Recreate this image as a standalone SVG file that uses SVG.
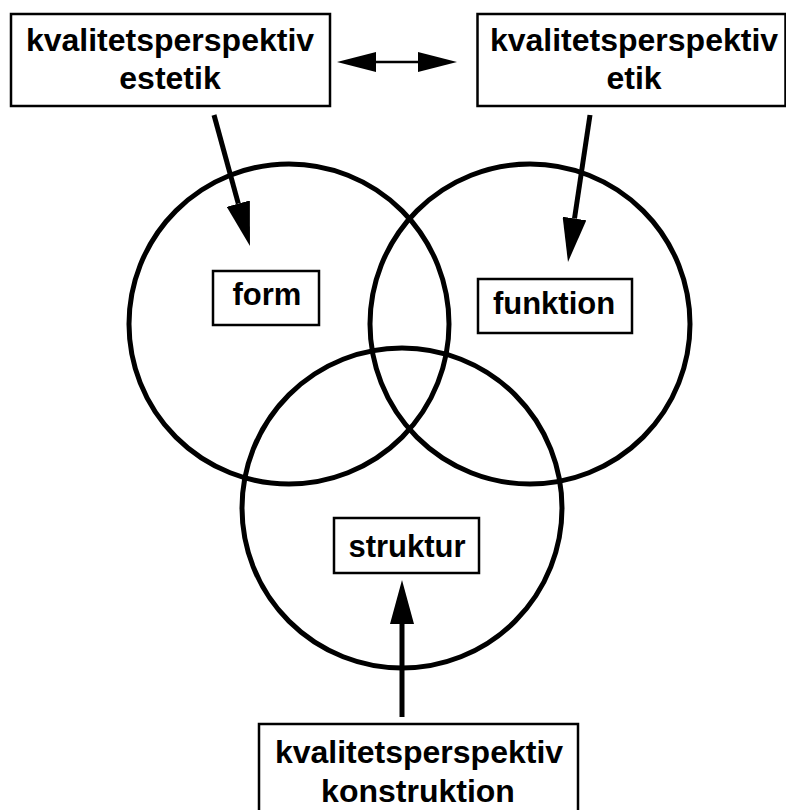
<svg xmlns="http://www.w3.org/2000/svg" width="786" height="810" viewBox="0 0 786 810">
  <style>
    .box { fill: #fff; stroke: #000; stroke-width: 2.5; }
    .lbl { fill: #fff; stroke: #000; stroke-width: 2.5; }
    .ring { fill: none; stroke: #000; stroke-width: 5; }
    .t { font-family: "Liberation Sans", Arial, Helvetica, sans-serif; font-weight: bold; fill: #000; text-anchor: middle; }
    .big { font-size: 32px; }
    .small { font-size: 31px; }
    .conn { stroke: #000; fill: none; }
    .thick { stroke-width: 5; marker-end: url(#ah); }
    .thin { stroke-width: 2.5; marker-start: url(#ah2); marker-end: url(#ah2); }
  </style>
  <defs>
    <marker id="ah" viewBox="0 0 44 24" refX="0" refY="12" markerWidth="44" markerHeight="24" markerUnits="userSpaceOnUse" orient="auto-start-reverse">
      <path d="M0,0 L44,12 L0,24 z" fill="#000"/>
    </marker>
    <marker id="ah2" viewBox="0 0 39 20" refX="0" refY="10" markerWidth="39" markerHeight="20" markerUnits="userSpaceOnUse" orient="auto-start-reverse">
      <path d="M0,0 L39,10 L0,20 z" fill="#000"/>
    </marker>
  </defs>
  <rect width="786" height="810" fill="#fff"/>

  <g id="circles">
    <circle id="circle-form" class="ring" cx="289" cy="324" r="160"/>
    <circle id="circle-funktion" class="ring" cx="530" cy="324" r="160"/>
    <circle id="circle-struktur" class="ring" cx="402" cy="508" r="160"/>
  </g>

  <g id="connectors">
    <line class="conn thick" x1="214" y1="115" x2="238.3" y2="203.6"/>
    <line class="conn thick" x1="590" y1="115" x2="574.5" y2="218.5"/>
    <line class="conn thick" x1="402" y1="717" x2="402" y2="624"/>
    <line class="conn thin" x1="376" y1="62" x2="418" y2="62"/>
  </g>

  <g id="node-estetik">
    <rect class="box" x="11" y="14" width="319" height="92"/>
    <text class="t big" x="170" y="51">kvalitetsperspektiv</text>
    <text class="t big" x="170" y="89">estetik</text>
  </g>

  <g id="node-etik">
    <rect class="box" x="477.5" y="14" width="308" height="92"/>
    <text class="t big" x="634" y="51">kvalitetsperspektiv</text>
    <text class="t big" x="634" y="89">etik</text>
  </g>

  <g id="node-konstruktion">
    <rect class="box" x="259" y="724" width="319" height="90"/>
    <text class="t big" x="419" y="763">kvalitetsperspektiv</text>
    <text class="t big" x="418" y="802">konstruktion</text>
  </g>

  <g id="node-form">
    <rect class="lbl" x="213" y="271" width="106" height="54"/>
    <text class="t small" x="267" y="305">form</text>
  </g>

  <g id="node-funktion">
    <rect class="lbl" x="478" y="279" width="154" height="54"/>
    <text class="t small" x="554" y="314">funktion</text>
  </g>

  <g id="node-struktur">
    <rect class="lbl" x="334" y="518" width="145" height="55"/>
    <text class="t small" x="407" y="557">struktur</text>
  </g>
</svg>
